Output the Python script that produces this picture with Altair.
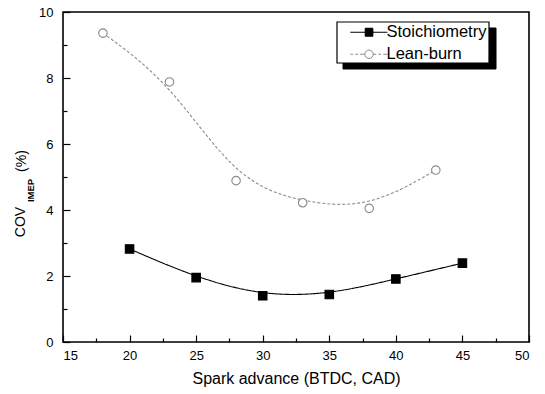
import altair as alt
import pandas as pd

series_names = ["Stoichiometry", "Lean-burn"]
stoich_x = [20, 25, 30, 35, 40, 45]
stoich_y = [2.82, 1.95, 1.40, 1.44, 1.91, 2.39]
lean_x = [18, 23, 28, 33, 38, 43]
lean_y = [9.36, 7.88, 4.89, 4.22, 4.05, 5.21]

x_major = [15, 20, 25, 30, 35, 40, 45, 50]
x_minor = [17.5, 22.5, 27.5, 32.5, 37.5, 42.5, 47.5]
y_major = [0, 2, 4, 6, 8, 10]
y_minor = [1, 3, 5, 7, 9]

df = pd.DataFrame({
    "x": stoich_x + lean_x,
    "y": stoich_y + lean_y,
    "series": [series_names[0]] * len(stoich_x) + [series_names[1]] * len(lean_x),
})

FONT = "Liberation Sans"
GREY = "#8a8a8a"

xs = alt.Scale(domain=[15, 50], nice=False, zero=False)
ys = alt.Scale(domain=[0, 10], nice=False, zero=False)

base = alt.Chart(df)

lines = base.mark_line(strokeWidth=1.1, interpolate="basis").encode(
    x=alt.X("x:Q", scale=xs, axis=alt.Axis(
        values=x_major, orient="bottom", offset=-7, tickSize=7, domain=False, grid=False,
        labelPadding=7, title="Spark advance (BTDC, CAD)", titlePadding=8,
        format="d")),
    y=alt.Y("y:Q", scale=ys, axis=alt.Axis(
        values=y_major, orient="left", offset=-7, tickSize=7, domain=False, grid=False,
        labelPadding=10, title=None, format="d")),
    color=alt.Color("series:N", scale=alt.Scale(domain=series_names, range=["black", GREY]), legend=None),
    strokeDash=alt.StrokeDash("series:N", scale=alt.Scale(domain=series_names, range=[[1, 0], [3, 2]]), legend=None),
    order="x:Q",
)

points = base.mark_point(size=72, strokeWidth=1.1, opacity=1).encode(
    x=alt.X("x:Q", scale=xs, axis=alt.Axis(
        values=x_minor, orient="bottom", offset=-4, tickSize=4, labels=False, domain=False,
        grid=False, title=None)),
    y=alt.Y("y:Q", scale=ys, axis=alt.Axis(
        values=y_minor, orient="left", offset=-4, tickSize=4, labels=False, domain=False,
        grid=False, title=None)),
    shape=alt.Shape("series:N", scale=alt.Scale(domain=series_names, range=["square", "circle"]), legend=None),
    fill=alt.Fill("series:N", scale=alt.Scale(domain=series_names, range=["black", "white"]), legend=None),
    stroke=alt.Stroke("series:N", scale=alt.Scale(domain=series_names, range=["black", GREY]), legend=None),
)

# legend frame and its drop shadow (decoration, pixel positions in the plot area)
box = pd.DataFrame({"k": [0]})
shadow_rect = alt.Chart(box).mark_rect(fill="black", stroke="black", strokeWidth=1).encode(
    x=alt.value(280), x2=alt.value(433), y=alt.value(16), y2=alt.value(57))
frame_rect = alt.Chart(box).mark_rect(fill="white", stroke="black", strokeWidth=1.2).encode(
    x=alt.value(274), x2=alt.value(426), y=alt.value(10), y2=alt.value(51))

stoich_sym = "M0.3,0H5.6M2.42,-0.57H3.52V0.57H2.42Z"
lean_sym = ("M0.3,0H0.7M1.0,0H1.4M1.7,0H2.37"
            "M3.57,0A0.6,0.6 0 1,1 2.37,0A0.6,0.6 0 1,1 3.57,0"
            "M3.57,0H4.0M4.3,0H4.7M5.0,0H5.6")

legend_layer = base.mark_point(opacity=0).encode(
    x=alt.X("x:Q", scale=xs, axis=None),
    y=alt.Y("y:Q", scale=ys, axis=None),
    shape=alt.Shape("series:N", scale=alt.Scale(domain=series_names, range=[stoich_sym, lean_sym]),
                    legend=alt.Legend(
                        title=None, orient="none", legendX=275, legendY=10, padding=2,
                        labelFont=FONT, labelFontSize=16.5, labelOffset=30, rowPadding=5,
                        symbolSize=196, symbolStrokeWidth=1, labelColor="black",
                        symbolOpacity=1,
                        symbolFillColor={"expr": "datum.value === 'Stoichiometry' ? 'black' : 'white'"},
                        symbolStrokeColor={"expr": "datum.value === 'Stoichiometry' ? 'black' : '#8a8a8a'"},
                    )),
    fill=alt.Fill("series:N", scale=alt.Scale(domain=series_names, range=["black", "white"]), legend=None),
    stroke=alt.Stroke("series:N", scale=alt.Scale(domain=series_names, range=["black", GREY]), legend=None),
)

def ytitle(txt, xpos, ypos, size, weight="normal"):
    return alt.Chart(pd.DataFrame({"t": [txt]})).mark_text(
        angle=270, align="center", baseline="middle", font=FONT, fontSize=size,
        fontWeight=weight, color="black"
    ).encode(text="t:N", x=alt.value(xpos), y=alt.value(ypos))

t_cov = ytitle("COV", -42, 210, 14)
t_imep = ytitle("IMEP", -32, 178.5, 9.5, "bold")
t_pct = ytitle("(%)", -41, 149, 14)

chart = alt.layer(
    lines, points, shadow_rect, frame_rect, legend_layer, t_cov, t_imep, t_pct
).resolve_scale(
    shape="independent"
).resolve_axis(
    x="independent", y="independent"
).properties(
    width=466, height=330,
    autosize=alt.AutoSizeParams(type="none"),
    padding={"left": 63, "top": 12, "right": 16, "bottom": 52},
    background="white",
).configure_view(
    stroke="black", strokeWidth=1.6
).configure_axis(
    labelFont=FONT, labelFontSize=13, labelColor="black",
    titleFont=FONT, titleFontSize=16, titleColor="black", titleFontWeight="normal",
    tickColor="black", tickWidth=1.2,
)

chart.save("out.html", embed_options={"renderer": "svg", "actions": False})
